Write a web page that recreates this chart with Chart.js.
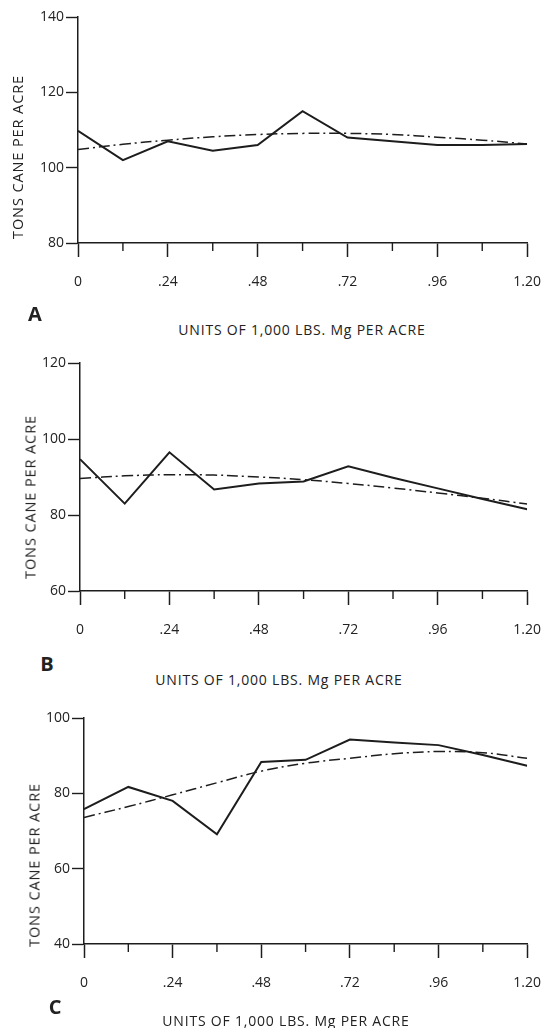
<!DOCTYPE html>
<html>
<head>
<meta charset="utf-8">
<script src="https://cdn.jsdelivr.net/npm/chart.js@4.4.1/dist/chart.umd.min.js"></script>
<style>
  html, body { margin: 0; padding: 0; background: #fff; }
  #page { position: relative; width: 558px; height: 1028px; overflow: hidden; font-family: "Open Sans", sans-serif; color: #222; }
  canvas { position: absolute; left: 0; }
  .lbl { position: absolute; white-space: nowrap; transform: translate(-50%, -50%); }
  .letter { font-weight: bold; font-size: 20px; }
  .xtitle { font-size: 14px; letter-spacing: 0.8px; }
  .ytitle { font-size: 14.5px; letter-spacing: 0.9px; transform: translate(-50%, -50%) rotate(-90deg); }
</style>
</head>
<body>
<div id="page"></div>
<script>
// magnesium rate, 1,000 lbs per acre
const rates = [0, 0.12, 0.24, 0.36, 0.48, 0.60, 0.72, 0.84, 0.96, 1.08, 1.20];
const xTickLabels = ['0', '.24', '.48', '.72', '.96', '1.20'];

// tons cane per acre, observed (solid) and fitted curve (dash-dot)
const observedA = [109.8, 102, 107, 104.5, 106, 115, 108, 107, 106, 106, 106.3];
const fittedA   = [104.8, 106.2, 107.3, 108.2, 108.8, 109.1, 109.1, 108.8, 108.1, 107.3, 106.3];

const observedB = [94.7, 83, 96.5, 86.7, 88.3, 88.8, 92.8, 89.8, 87, 84.2, 81.5];
const fittedB   = [89.6, 90.3, 90.6, 90.5, 90.0, 89.3, 88.3, 87.1, 85.8, 84.4, 82.9];

const observedC = [75.8, 81.7, 78, 69.1, 88.3, 88.9, 94.3, 93.5, 92.8, 90.2, 87.3];
const fittedC   = [73.6, 76.5, 79.6, 82.8, 85.9, 88.0, 89.3, 90.5, 91.1, 90.8, 89.3];

const yRangeA = [80, 140];
const yRangeB = [60, 120];
const yRangeC = [40, 100];

const INK = '#1d1d1d';
const FONT = '"Open Sans", sans-serif';

const panels = [
    { letter: 'A', observed: observedA, fitted: fittedA, yRange: yRangeA,
      top: 17, bottom: 243, left: 78, right: 534,
      letterPos: [35, 313], xTitlePos: [302, 329], yTitlePos: [17, 157] },
    { letter: 'B', observed: observedB, fitted: fittedB, yRange: yRangeB,
      top: 363, bottom: 591, left: 80, right: 535,
      letterPos: [47, 663], xTitlePos: [279, 679], yTitlePos: [30, 497] },
    { letter: 'C', observed: observedC, fitted: fittedC, yRange: yRangeC,
      top: 718, bottom: 944, left: 84, right: 540,
      letterPos: [55, 1006], xTitlePos: [286, 1020], yTitlePos: [34, 865] }
];

// short ticks between the labelled ones
const minorTicks = {
    id: 'minorTicks',
    afterDraw(chart) {
        const scale = chart.scales.x;
        const ctx = chart.ctx;
        ctx.save();
        ctx.strokeStyle = INK;
        ctx.lineWidth = 1.4;
        scale.ticks.forEach((t, i) => {
            if (i % 2 === 1) {
                const px = scale.getPixelForValue(t.value);
                ctx.beginPath();
                ctx.moveTo(px, scale.top);
                ctx.lineTo(px, scale.top + 8);
                ctx.stroke();
            }
        });
        ctx.restore();
    }
};

function addLabel(page, text, cls, pos) {
    let el = document.createElement('div');
    el.className = 'lbl ' + cls;
    el.textContent = text;
    el.style.left = pos[0] + 'px';
    el.style.top = pos[1] + 'px';
    page.appendChild(el);
}

function makePanel(page, p) {
    const canvasTop = p.top - 17;
    const canvasHeight = 300;
    let canvas = document.createElement('canvas');
    canvas.width = 558;
    canvas.height = canvasHeight;
    canvas.style.top = canvasTop + 'px';
    page.appendChild(canvas);

    const toPoints = vals => rates.map((x, i) => ({ x: x, y: vals[i] }));

    new Chart(canvas.getContext('2d'), {
        type: 'line',
        data: {
            datasets: [{
                label: 'Observed',
                data: toPoints(p.observed),
                borderColor: INK,
                borderWidth: 2,
                pointRadius: 0,
                tension: 0
            }, {
                label: 'Fitted',
                data: toPoints(p.fitted),
                borderColor: INK,
                borderWidth: 1.5,
                borderDash: [11, 4, 2, 4],
                pointRadius: 0,
                tension: 0.4
            }]
        },
        options: {
            responsive: false,
            animation: false,
            layout: { padding: { top: 17, right: 558 - p.right, left: 0, bottom: 0 } },
            plugins: { legend: { display: false }, tooltip: { enabled: false } },
            scales: {
                x: {
                    type: 'linear',
                    min: rates[0],
                    max: rates[rates.length - 1],
                    afterBuildTicks: s => { s.ticks = rates.map(v => ({ value: v })); },
                    afterFit: s => { s.height = canvasHeight - (p.bottom - canvasTop); },
                    border: { color: INK, width: 1.5 },
                    grid: {
                        drawOnChartArea: false,
                        tickLength: 14,
                        tickWidth: 1.5,
                        tickColor: c => (c.index % 2 === 0 ? INK : 'rgba(0,0,0,0)')
                    },
                    ticks: {
                        autoSkip: false,
                        maxRotation: 0,
                        padding: 17,
                        color: '#222',
                        font: { family: FONT, size: 14 },
                        callback: (v, i) => (i % 2 === 0 ? xTickLabels[i / 2] : '')
                    }
                },
                y: {
                    min: p.yRange[0],
                    max: p.yRange[1],
                    afterFit: s => { s.width = p.left; },
                    border: { color: INK, width: 1.5 },
                    grid: { drawOnChartArea: false, tickLength: 12, tickWidth: 1.4, tickColor: INK },
                    ticks: {
                        stepSize: 20,
                        padding: 2,
                        color: '#222',
                        font: { family: FONT, size: 14 }
                    }
                }
            }
        },
        plugins: [minorTicks]
    });

    addLabel(page, p.letter, 'letter', p.letterPos);
    addLabel(page, 'UNITS OF 1,000 LBS. Mg PER ACRE', 'xtitle', p.xTitlePos);
    addLabel(page, 'TONS CANE PER ACRE', 'ytitle', p.yTitlePos);
}

let page = document.getElementById('page');
panels.forEach(p => makePanel(page, p));
</script>
</body>
</html>
